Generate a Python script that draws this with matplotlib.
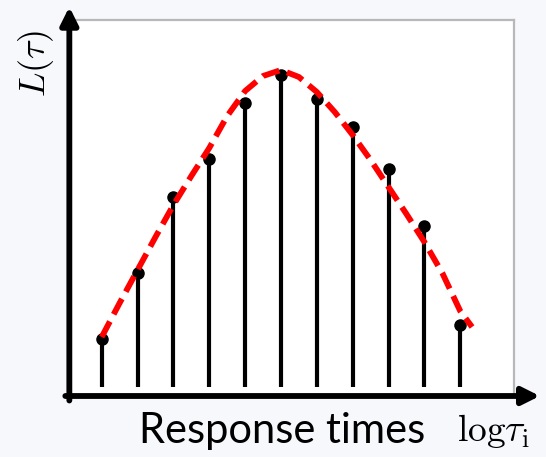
import numpy as np
import matplotlib.pyplot as plt

plt.rcParams['mathtext.fontset'] = 'cm'

# stem positions (log response-time bins) and stem heights
bins = np.arange(11)
heights = [48, 114, 190, 228, 284, 312, 288, 260, 218, 161, 62]

# fitted curve
curve_x = [0, 0.5, 1, 1.5, 2, 2.5, 3, 3.5, 4, 4.5, 5, 5.5, 6, 6.5, 7, 7.5,
           8, 8.5, 9, 9.5, 10, 10.33]
curve_y = [50, 84, 117, 150, 182, 211, 239, 271, 296, 311, 317, 310, 295,
           275, 252, 227, 200, 173, 145, 114, 76, 60]

W, H = 546, 457
fig = plt.figure(figsize=(W / 100, H / 100), dpi=100, facecolor='#f6f8fc')

# axes box in pixels: left 68, right 514, top 20, bottom 396
ax = fig.add_axes([68 / W, (H - 396) / H, (514 - 68) / W, (396 - 20) / H])
ax.set_facecolor('white')
ax.set_xlim(-0.94, 11.5)
ax.set_ylim(-9, 367)
ax.set_xticks([])
ax.set_yticks([])
for s in ['top', 'right']:
    ax.spines[s].set_color('#b8b8b8')
    ax.spines[s].set_linewidth(1.6)
for s in ['left', 'bottom']:
    ax.spines[s].set_visible(False)

# stems
ax.vlines(bins, 0, heights, color='black', lw=3.0, zorder=2)
ax.plot(bins, heights, 'o', color='black', ms=8, zorder=3)

# dashed fit
ax.plot(curve_x, curve_y, color='#ff0000', lw=4.2, dashes=(3.0, 1.4),
        zorder=4, solid_capstyle='butt')

# arrowed axes
arrow = dict(arrowstyle='-|>', color='black', lw=4.2, mutation_scale=26,
             shrinkA=0, shrinkB=0)
ax.annotate('', xy=(0.003, 1.035), xytext=(0.003, -0.012),
            xycoords='axes fraction', arrowprops=arrow, annotation_clip=False)
ax.annotate('', xy=(1.058, 0.0), xytext=(-0.006, 0.0),
            xycoords='axes fraction', arrowprops=arrow, annotation_clip=False)

fig.text(36 / W, 1 - 64 / H, r'$L(\tau)$', rotation=90, fontsize=26,
         ha='center', va='center')
fig.text(282 / W, 1 - 431 / H, 'Response times', fontsize=30,
         family='Lato', ha='center', va='center')
fig.text(493 / W, 1 - 431 / H, r'$\mathrm{log}\tau_{\mathrm{i}}$', fontsize=27,
         ha='center', va='center')

fig.savefig('out.png', dpi=100, facecolor=fig.get_facecolor())
